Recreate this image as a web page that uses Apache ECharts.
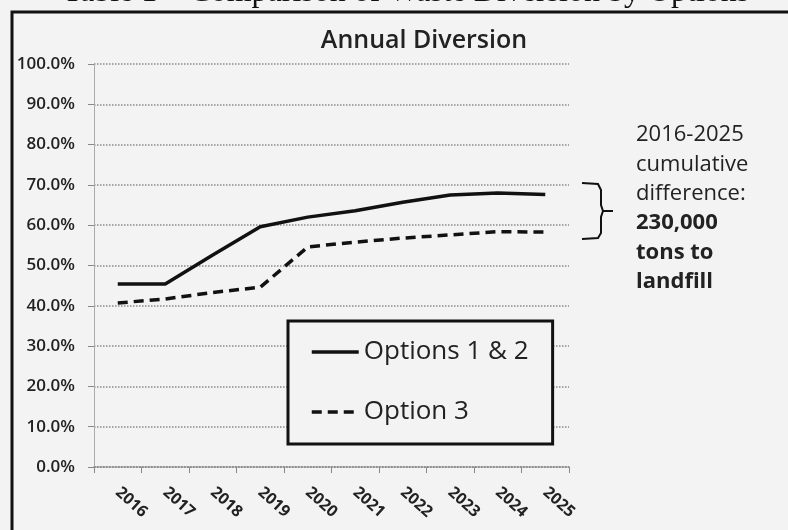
<!DOCTYPE html>
<html>
<head>
  <meta charset="utf-8">
  <title>Annual Diversion</title>
  <script src="https://cdn.jsdelivr.net/npm/echarts@6/dist/echarts.min.js"></script>
  <style>
    body { margin: 0; background: #f3f3f3; }
  </style>
</head>
<body>
  <div id="main" style="width: 788px;height:530px;"></div>
  <script type="text/javascript">
    var years = ['2016', '2017', '2018', '2019', '2020', '2021', '2022', '2023', '2024', '2025'];
    var options12 = [45.4, 45.4, 52.6, 59.6, 62.0, 63.6, 65.7, 67.5, 68.0, 67.6];
    var option3 = [40.7, 41.7, 43.3, 44.6, 54.6, 55.8, 56.8, 57.6, 58.4, 58.3];
    var noteLines = ['2016-2025', 'cumulative', 'difference:', '230,000', 'tons to', 'landfill'];

    var font = '"Open Sans", sans-serif';
    var myChart = echarts.init(document.getElementById('main'));

    var notes = noteLines.map(function (t, i) {
      return {
        type: 'text',
        x: 636,
        y: 135 + i * 29.4,
        style: {
          text: t,
          verticalAlign: 'middle',
          font: (i >= 3 ? 'bold ' : '') + '22px ' + font,
          fill: '#222'
        }
      };
    });

    myChart.setOption({
      backgroundColor: '#f3f3f3',
      animation: false,
      title: {
        text: 'Annual Diversion',
        left: 419,
        textAlign: 'center',
        top: 23,
        textStyle: { fontFamily: font, fontSize: 25, fontWeight: 600, color: '#222' }
      },
      grid: { left: 94, right: 219, top: 64, bottom: 63 },
      legend: {
        orient: 'vertical',
        left: 288,
        top: 321,
        padding: [18, 24, 19, 22],
        itemGap: 34,
        itemWidth: 47,
        itemHeight: 26,
        borderColor: '#111',
        borderWidth: 3,
        backgroundColor: '#f3f3f3',
        itemStyle: { opacity: 0 },
        lineStyle: { width: 3.5 },
        textStyle: { fontFamily: font, fontSize: 26, color: '#222' },
        data: ['Options 1 & 2', 'Option 3']
      },
      xAxis: {
        type: 'category',
        data: years,
        boundaryGap: true,
        axisLine: { lineStyle: { color: '#888', type: 'dotted', width: 1.5 } },
        axisTick: { show: true, length: 6, lineStyle: { color: '#888' } },
        axisLabel: {
          rotate: -42,
          margin: 23,
          fontFamily: font,
          fontSize: 16,
          fontWeight: 'bold',
          color: '#222'
        }
      },
      yAxis: {
        type: 'value',
        min: 0,
        max: 100,
        interval: 10,
        axisLine: { show: true, lineStyle: { color: '#aaa', width: 1 } },
        axisTick: { show: true, length: 6, lineStyle: { color: '#888' } },
        axisLabel: {
          margin: 19,
          fontFamily: font,
          fontSize: 17,
          fontWeight: 600,
          color: '#222',
          formatter: function (v) { return v.toFixed(1) + '%'; }
        },
        splitLine: { lineStyle: { color: '#8a8a8a', type: 'dotted', width: 1.5 } }
      },
      series: [
        {
          name: 'Options 1 & 2',
          type: 'line',
          data: options12,
          symbol: 'none',
          lineStyle: { color: '#111', width: 3.5 },
          itemStyle: { color: '#111' }
        },
        {
          name: 'Option 3',
          type: 'line',
          data: option3,
          symbol: 'none',
          lineStyle: { color: '#111', width: 3.5, type: [10, 6] },
          itemStyle: { color: '#111' }
        }
      ],
      graphic: [
        {
          type: 'text',
          x: 406,
          y: -23,
          style: {
            text: 'Table 1 \u2013 Comparison of Waste Diversion by Options',
            align: 'center',
            verticalAlign: 'top',
            font: '32px "Liberation Serif", serif',
            fill: '#111'
          }
        },
        {
          type: 'rect',
          shape: { x: 12, y: 12, width: 820, height: 600 },
          style: { fill: 'none', stroke: '#111', lineWidth: 3 }
        },
        {
          type: 'polyline',
          shape: { points: [[582, 183], [598, 184], [601, 190], [601, 205], [603, 211], [613, 211], [603, 211], [601, 217], [601, 233], [598, 238], [582, 239]] },
          style: { fill: 'none', stroke: '#111', lineWidth: 2 }
        }
      ].concat(notes)
    });
  </script>
</body>
</html>
